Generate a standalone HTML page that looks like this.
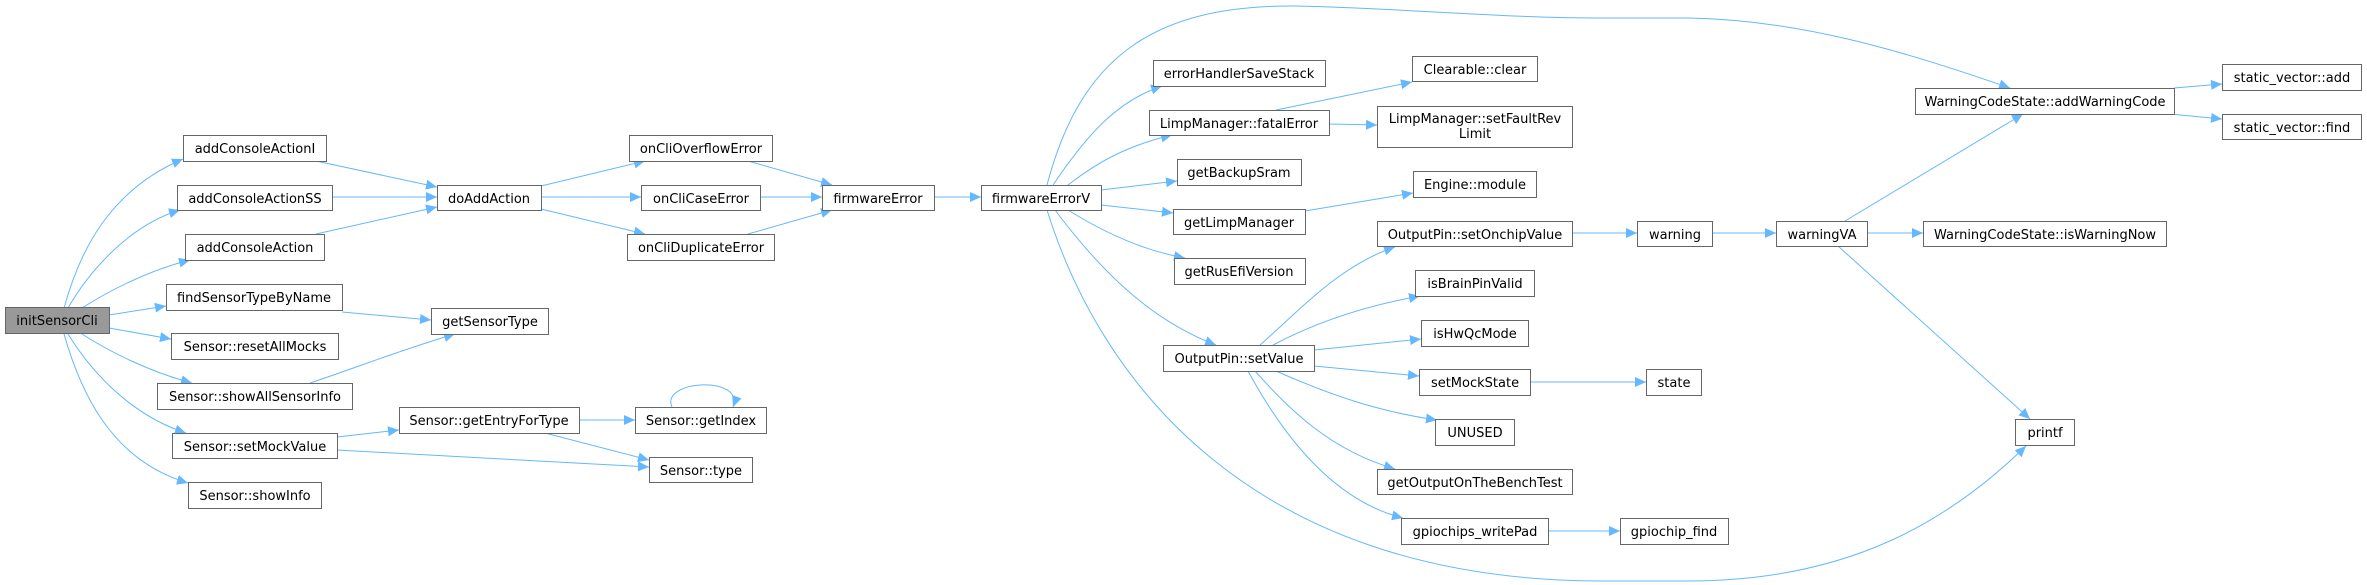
<!DOCTYPE html>
<html><head><meta charset="utf-8"><style>
html,body{margin:0;padding:0;background:#fff;}
svg{display:block;}
text{font-family:"DejaVu Sans","Liberation Sans",sans-serif;font-size:13px;fill:#000;text-anchor:middle;}
.n{fill:#fff;stroke:#666;stroke-width:1;}
.e{fill:none;stroke:#63b8ff;stroke-width:1;marker-end:url(#a);}
</style></head><body>
<svg width="2367" height="585" viewBox="0 0 2367 585" xmlns="http://www.w3.org/2000/svg">
<defs><marker id="a" markerUnits="userSpaceOnUse" markerWidth="12" markerHeight="10" refX="11" refY="5" orient="auto"><path d="M0,0 L11,5 L0,10 z" fill="#63b8ff"/></marker></defs>
<g>
<path class="e" d="M64,308 C80,250 110,190 183,159"/>
<path class="e" d="M68,308 C90,270 130,225 180,210"/>
<path class="e" d="M82,308 C110,290 150,270 190,260"/>
<path class="e" d="M109,315 L166,306"/>
<path class="e" d="M109,328 L171,339"/>
<path class="e" d="M82,334 C110,352 150,372 192,383"/>
<path class="e" d="M68,334 C90,370 130,415 186,433"/>
<path class="e" d="M64,334 C80,390 110,460 188,483"/>
<path class="e" d="M316,161 L437,187"/>
<path class="e" d="M332,197 L437,197"/>
<path class="e" d="M316,234 L437,207"/>
<path class="e" d="M541,186 L645,161"/>
<path class="e" d="M541,197 L641,197"/>
<path class="e" d="M541,209 L645,234"/>
<path class="e" d="M748,161 L832,185"/>
<path class="e" d="M760,197 L822,197"/>
<path class="e" d="M748,234 L832,210"/>
<path class="e" d="M342,312 L431,320"/>
<path class="e" d="M310,383 C350,370 400,350 455,334"/>
<path class="e" d="M337,437 L399,430"/>
<path class="e" d="M337,450 L649,467"/>
<path class="e" d="M579,420 L635,420"/>
<path class="e" d="M545,433 L649,460"/>
<path class="e" d="M672,407 C660,380 745,375 733,407"/>
<path class="e" d="M934,197 L981,197"/>
<path class="e" d="M1047,185 C1080,60 1150,5 1295,6 C1400,8 1500,18 1600,18 L1688,18 C1800,20 1900,50 2010,88"/>
<path class="e" d="M1053,185 C1090,130 1120,100 1162,86"/>
<path class="e" d="M1068,185 C1100,160 1130,145 1172,135"/>
<path class="e" d="M1101,190 L1177,181"/>
<path class="e" d="M1101,205 L1173,213"/>
<path class="e" d="M1068,210 C1100,230 1140,250 1185,258"/>
<path class="e" d="M1055,210 C1100,270 1150,320 1216,345"/>
<path class="e" d="M1047,210 C1100,380 1250,580 1600,581 L1688,581 C1850,581 1950,520 2026,446"/>
<path class="e" d="M1276,110 L1412,82"/>
<path class="e" d="M1329,124 L1377,125"/>
<path class="e" d="M1305,211 L1413,193"/>
<path class="e" d="M1260,345 C1300,310 1340,265 1395,247"/>
<path class="e" d="M1273,345 C1320,320 1370,305 1420,296"/>
<path class="e" d="M1314,350 L1421,339"/>
<path class="e" d="M1314,366 L1419,376"/>
<path class="e" d="M1276,371 C1330,395 1380,412 1437,420"/>
<path class="e" d="M1255,371 C1290,410 1330,450 1395,469"/>
<path class="e" d="M1248,371 C1280,430 1330,500 1403,518"/>
<path class="e" d="M1572,233 L1637,233"/>
<path class="e" d="M1712,233 L1776,233"/>
<path class="e" d="M1845,221 L2023,114"/>
<path class="e" d="M1867,233 L1923,233"/>
<path class="e" d="M1838,246 L2030,419"/>
<path class="e" d="M2174,88 L2222,84"/>
<path class="e" d="M2170,114 L2222,119"/>
<path class="e" d="M1530,382 L1646,382"/>
<path class="e" d="M1548,531 L1620,531"/>
</g>
<g>
<rect x="5.5" y="307.5" width="104" height="26" fill="#999" stroke="#666"/><text x="57" y="325">initSensorCli</text>
<rect class="n" x="183.5" y="135.5" width="143" height="26"/><text x="255" y="153">addConsoleActionI</text>
<rect class="n" x="177.5" y="185.5" width="155" height="25"/><text x="255" y="203">addConsoleActionSS</text>
<rect class="n" x="185.5" y="234.5" width="139" height="26"/><text x="255" y="252">addConsoleAction</text>
<rect class="n" x="166.5" y="284.5" width="176" height="26"/><text x="254" y="302">findSensorTypeByName</text>
<rect class="n" x="171.5" y="333.5" width="167" height="26"/><text x="255" y="351">Sensor::resetAllMocks</text>
<rect class="n" x="157.5" y="383.5" width="195" height="26"/><text x="255" y="401">Sensor::showAllSensorInfo</text>
<rect class="n" x="172.5" y="433.5" width="165" height="25"/><text x="255" y="451">Sensor::setMockValue</text>
<rect class="n" x="188.5" y="482.5" width="133" height="26"/><text x="255" y="500">Sensor::showInfo</text>
<rect class="n" x="437.5" y="185.5" width="104" height="25"/><text x="489" y="203">doAddAction</text>
<rect class="n" x="431.5" y="308.5" width="117" height="26"/><text x="490" y="326">getSensorType</text>
<rect class="n" x="399.5" y="407.5" width="180" height="26"/><text x="489" y="425">Sensor::getEntryForType</text>
<rect class="n" x="629.5" y="135.5" width="143" height="26"/><text x="701" y="153">onCliOverflowError</text>
<rect class="n" x="641.5" y="185.5" width="119" height="25"/><text x="701" y="203">onCliCaseError</text>
<rect class="n" x="627.5" y="234.5" width="147" height="26"/><text x="701" y="252">onCliDuplicateError</text>
<rect class="n" x="635.5" y="407.5" width="131" height="26"/><text x="701" y="425">Sensor::getIndex</text>
<rect class="n" x="649.5" y="457.5" width="103" height="25"/><text x="701" y="475">Sensor::type</text>
<rect class="n" x="822.5" y="185.5" width="112" height="25"/><text x="878" y="203">firmwareError</text>
<rect class="n" x="981.5" y="185.5" width="120" height="25"/><text x="1041" y="203">firmwareErrorV</text>
<rect class="n" x="1153.5" y="60.5" width="172" height="26"/><text x="1239" y="78">errorHandlerSaveStack</text>
<rect class="n" x="1149.5" y="110.5" width="180" height="25"/><text x="1239" y="128">LimpManager::fatalError</text>
<rect class="n" x="1177.5" y="159.5" width="124" height="26"/><text x="1239" y="177">getBackupSram</text>
<rect class="n" x="1173.5" y="209.5" width="132" height="25"/><text x="1239" y="227">getLimpManager</text>
<rect class="n" x="1174.5" y="258.5" width="131" height="26"/><text x="1239" y="276">getRusEfiVersion</text>
<rect class="n" x="1163.5" y="345.5" width="151" height="26"/><text x="1239" y="363">OutputPin::setValue</text>
<rect class="n" x="1412.5" y="56.5" width="125" height="25"/><text x="1475" y="74">Clearable::clear</text>
<rect class="n" x="1377.5" y="106.5" width="195" height="41"/><text x="1475" y="123">LimpManager::setFaultRev</text><text x="1475" y="138">Limit</text>
<rect class="n" x="1413.5" y="171.5" width="123" height="26"/><text x="1475" y="189">Engine::module</text>
<rect class="n" x="1377.5" y="221.5" width="195" height="25"/><text x="1475" y="239">OutputPin::setOnchipValue</text>
<rect class="n" x="1415.5" y="270.5" width="119" height="26"/><text x="1475" y="288">isBrainPinValid</text>
<rect class="n" x="1421.5" y="320.5" width="107" height="26"/><text x="1475" y="338">isHwQcMode</text>
<rect class="n" x="1419.5" y="369.5" width="111" height="26"/><text x="1475" y="387">setMockState</text>
<rect class="n" x="1435.5" y="419.5" width="79" height="26"/><text x="1475" y="437">UNUSED</text>
<rect class="n" x="1377.5" y="469.5" width="195" height="25"/><text x="1475" y="487">getOutputOnTheBenchTest</text>
<rect class="n" x="1401.5" y="518.5" width="147" height="26"/><text x="1475" y="536">gpiochips_writePad</text>
<rect class="n" x="1637.5" y="221.5" width="75" height="25"/><text x="1675" y="239">warning</text>
<rect class="n" x="1776.5" y="221.5" width="91" height="25"/><text x="1822" y="239">warningVA</text>
<rect class="n" x="1915.5" y="88.5" width="259" height="26"/><text x="2045" y="106">WarningCodeState::addWarningCode</text>
<rect class="n" x="1923.5" y="221.5" width="243" height="25"/><text x="2045" y="239">WarningCodeState::isWarningNow</text>
<rect class="n" x="2222.5" y="64.5" width="139" height="26"/><text x="2292" y="82">static_vector::add</text>
<rect class="n" x="2222.5" y="114.5" width="139" height="25"/><text x="2292" y="132">static_vector::find</text>
<rect class="n" x="1646.5" y="369.5" width="55" height="26"/><text x="1674" y="387">state</text>
<rect class="n" x="2015.5" y="419.5" width="59" height="26"/><text x="2045" y="437">printf</text>
<rect class="n" x="1620.5" y="518.5" width="108" height="26"/><text x="1674" y="536">gpiochip_find</text>
</g>
</svg>
</body></html>
